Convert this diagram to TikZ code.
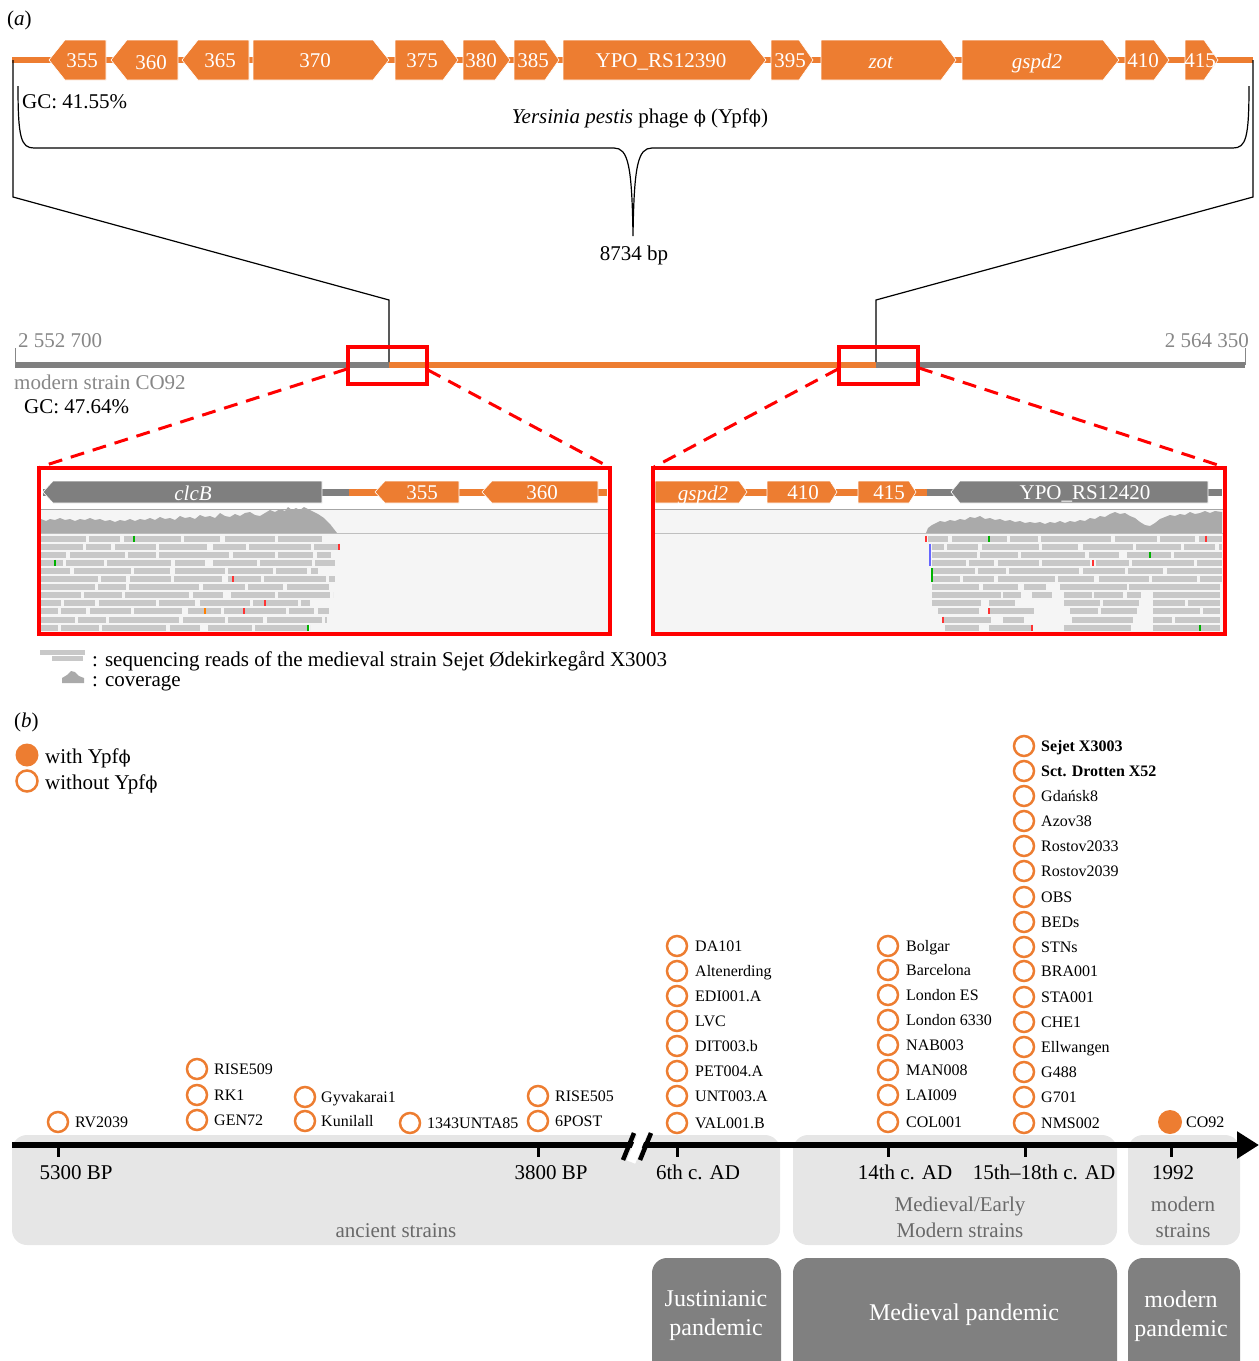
\documentclass[tikz,border=0pt]{standalone}
\usepackage{fontspec}
\setmainfont{Liberation Serif}
\newfontfamily\phifont[Scale=0.85]{DejaVu Serif}
\usetikzlibrary{arrows.meta}
\newcommand\phg{{\phifont ϕ}}
\newcommand\fA{\fontsize{21}{26}\selectfont}
\newcommand\fB{\fontsize{16}{19}\selectfont}
\newcommand\fC{\fontsize{24}{29}\selectfont}
\definecolor{orng}{RGB}{237,125,49}
\definecolor{ggene}{RGB}{127,127,127}
\definecolor{tgray}{RGB}{135,135,135}
\definecolor{lbox}{RGB}{230,230,230}
\definecolor{dbox}{RGB}{128,128,128}
\definecolor{readc}{RGB}{200,200,200}
\definecolor{covc}{RGB}{170,170,170}
\definecolor{panbg}{RGB}{245,245,245}
\definecolor{boxtxt}{RGB}{105,105,105}
% gene arrows: x1, x2, ymid, half height, head, style
\newcommand\geneR[6]{\path[#6] (#1,#3-#4) -- (#2-#5,#3-#4) -- (#2,#3) -- (#2-#5,#3+#4) -- (#1,#3+#4) -- cycle;}
\newcommand\geneL[6]{\path[#6] (#2,#3-#4) -- (#1+#5,#3-#4) -- (#1,#3) -- (#1+#5,#3+#4) -- (#2,#3+#4) -- cycle;}
\begin{document}
\begin{tikzpicture}[x=1pt,y=-1pt,
  t21/.style={font=\fA, inner sep=0pt, text height=14.3pt, text depth=0pt},
  t16/.style={font=\fB, inner sep=0pt, text height=10.9pt, text depth=0pt},
  glab/.style={t21, text=white},
  og/.style={fill=orng, draw=white, line width=0.6},
  gg/.style={fill=ggene, draw=white, line width=0.6},
  sc/.style={circle, draw=orng, line width=2.5, minimum size=20, inner sep=0pt},
  sl/.style={t16, anchor=west},
  redbox/.style={draw=red, line width=4},
  reddash/.style={draw=red, line width=3, dash pattern=on 14pt off 9pt},
  read/.style={draw=readc, line width=6},
  rp1/.style={dash pattern=on 45pt off 3pt on 31pt off 4pt on 57pt off 3pt on 36pt off 5pt on 50pt off 3pt},
  rp2/.style={dash pattern=on 62pt off 3pt on 25pt off 4pt on 41pt off 3pt on 48pt off 6pt on 33pt off 3pt},
  rp3/.style={dash pattern=on 35pt off 4pt on 55pt off 3pt on 28pt off 3pt on 70pt off 4pt on 42pt off 3pt},
  rp4/.style={dash pattern=on 52pt off 3pt on 38pt off 3pt on 64pt off 4pt on 30pt off 8pt on 44pt off 3pt},
  mm/.style={line width=2},
  ltxt/.style={font=\fA, align=center, inner sep=0pt, text=boxtxt},
  dtxt/.style={font=\fC, align=center, inner sep=0pt, text=white},
]
\useasboundingbox (0,0) rectangle (1259,1361);

%%%%%%%%%%%%%%%% (a) phage gene map
\node[t21, anchor=west] (pa) at (7,18) {(\textit{a})};
\draw[orng, line width=6] (12,60) -- (1253,60);
\geneL{49}{106}{60}{20}{16}{og}
\geneL{111}{178}{60}{20}{16}{og}
\geneL{182}{249}{60}{20}{16}{og}
\geneR{253}{389}{60}{20}{16}{og}
\geneR{395}{458}{60}{20}{15}{og}
\geneR{463}{510}{60}{20}{15}{og}
\geneR{514}{559}{60}{20}{14}{og}
\geneR{563}{766}{60}{20}{16}{og}
\geneR{771}{813}{60}{20}{14}{og}
\geneR{821}{956}{60}{20}{15}{og}
\geneR{962}{1119}{60}{20}{16}{og}
\geneR{1125}{1169}{60}{20}{15}{og}
\geneR{1185}{1218}{60}{20}{14}{og}
\node[glab] (g355) at (82,60) {355};
\node[glab] (g360) at (151,62) {360};
\node[glab] (g365) at (220,60) {365};
\node[glab] (g370) at (315,60) {370};
\node[glab] (g375) at (422,60) {375};
\node[glab] (g380) at (481,60) {380};
\node[glab] (g385) at (533,60) {385};
\node[glab] (g390) at (661,60) {YPO\_RS12390};
\node[glab] (g395) at (790,60) {395};
\node[glab] (gzot) at (881,61) {\textit{zot}};
\node[glab] (ggsp) at (1037,61) {\textit{gspd2}};
\node[glab] (g410) at (1143,60) {410};
\node[glab] (g415) at (1200,60) {415};

\node[t21, anchor=west] (gc1) at (22,101) {GC: 41.55\%};
\node[t21] (ypf) at (640,116) {\textit{Yersinia pestis} phage \phg\ (Ypf\phg)};
\draw[line width=1.2] (18,86) .. controls (18,138) and (21,148) .. (34,148) -- (614,148)
   .. controls (628,148) and (632,165) .. (633,236)
   .. controls (634,165) and (638,148) .. (652,148) -- (1233,148)
   .. controls (1246,148) and (1249,138) .. (1249,86);
\node[t21] (bp) at (634,253) {8734 bp};

%%%%%%%%%%%%%%%% chromosome
\draw[ggene, line width=6] (15,365) -- (389,365);
\draw[orng, line width=6] (389,365) -- (876,365);
\draw[ggene, line width=6] (876,365) -- (1245,365);
\draw[tgray, line width=1] (15,348) -- (15,365);
\draw[tgray, line width=1] (1245,348) -- (1245,365);
\draw[line width=1.2] (13,60) -- (13,197) -- (389,300) -- (389,362);
\draw[line width=1.2] (1253,60) -- (1253,197) -- (876,300) -- (876,362);
\node[t21, anchor=west, text=tgray] (pos1) at (18,340) {2 552 700};
\node[t21, anchor=east, text=tgray] (pos2) at (1249,340) {2 564 350};
\node[t21, anchor=west, text=tgray] (ms) at (14,382) {modern strain CO92};
\node[t21, anchor=west] (gc2) at (24,406) {GC: 47.64\%};

\draw[redbox] (348,347) rectangle (427,384);
\draw[redbox] (839,347) rectangle (918,384);
\draw[reddash] (347,369) -- (40,467);
\draw[reddash] (428,370) -- (609,467);
\draw[reddash] (838,369) -- (654,467);
\draw[reddash] (919,368) -- (1224,467);

%%%%%%%%%%%%%%%% left zoom panel
\fill[panbg] (41,510) rectangle (608,632);
\draw[gray!70, line width=1.5] (41,509.5) -- (608,509.5);
\draw[gray!50, line width=1] (41,533) -- (608,533);
\fill[covc] (41,533) -- (41,519) -- (46,521) -- (50,519) -- (55,520) -- (60,518) -- (65,520) -- (70,519) -- (75,521) -- (80,519) -- (85,520) -- (90,518) -- (95,520) -- (100,519) -- (105,521) -- (110,520) -- (115,522) -- (120,520) -- (125,521) -- (130,519) -- (135,521) -- (140,519) -- (145,520) -- (150,518) -- (155,520) -- (160,517) -- (165,519) -- (170,518) -- (175,520) -- (180,516) -- (185,518) -- (190,517) -- (195,519) -- (200,515) -- (205,517) -- (210,516) -- (215,518) -- (220,513) -- (225,516) -- (230,517) -- (235,514) -- (240,516) -- (245,513) -- (250,512) -- (255,515) -- (260,516) -- (265,513) -- (270,510) -- (275,512) -- (280,509) -- (285,511) -- (288,507) -- (292,510) -- (296,508) -- (300,510) -- (304,507) -- (308,509) -- (312,511) -- (318,514) -- (324,518) -- (330,524) -- (337,533) -- cycle;
\draw[read,rp1] (41,538.5) -- (322,538.5);
\draw[read,rp2,dash phase=20pt] (41,546.6) -- (339,546.6);
\draw[read,rp3,dash phase=10pt] (41,554.7) -- (331,554.7);
\draw[read,rp4,dash phase=30pt] (41,562.8) -- (335,562.8);
\draw[read,rp1,dash phase=50pt] (41,570.9) -- (318,570.9);
\draw[read,rp2,dash phase=5pt] (41,579) -- (335,579);
\draw[read,rp3,dash phase=40pt] (41,587.1) -- (329,587.1);
\draw[read,rp4,dash phase=12pt] (41,595.2) -- (333,595.2);
\draw[read,rp1,dash phase=25pt] (41,603.3) -- (310,603.3);
\draw[read,rp2,dash phase=45pt] (41,611.4) -- (329,611.4);
\draw[read,rp3,dash phase=60pt] (41,619.5) -- (327,619.5);
\draw[read,rp4,dash phase=35pt] (41,627.6) -- (310,627.6);
\draw[mm, green!70!black] (134,535.5) -- (134,541.5);
\draw[mm, red!80] (339,543.6) -- (339,549.6);
\draw[mm, green!70!black] (55,559.8) -- (55,565.8);
\draw[mm, red!80] (233,576) -- (233,582);
\draw[mm, red!80] (265,600.3) -- (265,606.3);
\draw[mm, orange] (205,608.4) -- (205,614.4);
\draw[mm, red!80] (244,608.4) -- (244,614.4);
\draw[mm, green!70!black] (308,624.6) -- (308,630.6);
\draw[ggene, line width=7] (43,492) -- (349,492);
\draw[orng, line width=7] (349,492) -- (607,492);
\geneL{43}{322}{492}{11}{10}{gg}
\geneL{375}{459}{492}{11}{10}{og}
\geneL{482}{598}{492}{11}{10}{og}
\node[glab] (clcb) at (193,493) {\textit{clcB}};
\node[glab] (p355) at (422,492) {355};
\node[glab] (p360) at (542,492) {360};
\draw[redbox] (39,468) rectangle (610,634);

%%%%%%%%%%%%%%%% right zoom panel
\fill[panbg] (655,510) rectangle (1223,632);
\draw[gray!70, line width=1.5] (655,509.5) -- (1223,509.5);
\draw[gray!50, line width=1] (655,533) -- (1223,533);
\fill[covc] (926,533) -- (928,528) -- (932,525) -- (936,523) -- (940,521) -- (945,522) -- (950,520) -- (955,521) -- (960,519) -- (965,520) -- (970,517) -- (975,518) -- (980,516) -- (985,519) -- (990,518) -- (995,520) -- (1000,519) -- (1005,521) -- (1010,520) -- (1015,522) -- (1020,521) -- (1025,523) -- (1030,522) -- (1035,523) -- (1040,522) -- (1045,524) -- (1050,522) -- (1055,523) -- (1060,521) -- (1065,523) -- (1070,521) -- (1075,522) -- (1080,520) -- (1085,521) -- (1090,518) -- (1095,519) -- (1100,516) -- (1105,517) -- (1110,514) -- (1115,512) -- (1120,514) -- (1125,513) -- (1130,516) -- (1135,518) -- (1140,522) -- (1145,525) -- (1150,526) -- (1155,523) -- (1160,519) -- (1165,517) -- (1170,515) -- (1175,516) -- (1180,514) -- (1185,515) -- (1190,512) -- (1195,514) -- (1200,513) -- (1205,511) -- (1210,513) -- (1215,511) -- (1222,512) -- (1222,533) -- cycle;
\draw[read,rp3,dash phase=15pt] (928,538.5) -- (1222,538.5);
\draw[read,rp1,dash phase=33pt] (932,546.6) -- (1222,546.6);
\draw[read,rp4,dash phase=7pt] (932,554.7) -- (1222,554.7);
\draw[read,rp2,dash phase=28pt] (932,562.8) -- (1222,562.8);
\draw[read,rp3,dash phase=52pt] (933,570.9) -- (1222,570.9);
\draw[read,rp1,dash phase=18pt] (933,579) -- (1222,579);
\foreach \a/\b in {932/979, 983/1018, 1024/1046, 1060/1127, 1129/1220}
  \draw[read] (\a,587.1) -- (\b,587.1);
\foreach \a/\b in {932/1001, 1003/1021, 1032/1052, 1064/1092, 1094/1123, 1127/1141, 1153/1220}
  \draw[read] (\a,595.2) -- (\b,595.2);
\foreach \a/\b in {932/981, 989/1015, 1064/1100, 1103/1139, 1153/1185, 1188/1220}
  \draw[read] (\a,603.3) -- (\b,603.3);
\foreach \a/\b in {938/979, 989/1034, 1070/1098, 1101/1137, 1153/1200, 1203/1220}
  \draw[read] (\a,611.4) -- (\b,611.4);
\foreach \a/\b in {942/991, 1003/1024, 1072/1133, 1153/1172, 1175/1220}
  \draw[read] (\a,619.5) -- (\b,619.5);
\foreach \a/\b in {945/979, 989/1032, 1064/1131, 1153/1220}
  \draw[read] (\a,627.6) -- (\b,627.6);
\draw[mm, red!80] (926,535.5) -- (926,541.5);
\draw[mm, green!70!black] (989,535.5) -- (989,541.5);
\draw[mm, red!80] (1206,535.5) -- (1206,541.5);
\draw[mm, blue!60] (930,543.6) -- (930,565.8);
\draw[mm, green!70!black] (932,568) -- (932,582);
\draw[mm, green!70!black] (1150,551.7) -- (1150,557.7);
\draw[mm, red!80] (1093,559.8) -- (1093,565.8);
\draw[mm, red!80] (989,608.4) -- (989,614.4);
\draw[mm, red!80] (943,616.5) -- (943,622.5);
\draw[mm, red!80] (1032,624.6) -- (1032,630.6);
\draw[mm, green!70!black] (1200,624.6) -- (1200,630.6);
\draw[orng, line width=7] (655,492) -- (927,492);
\draw[ggene, line width=7] (927,492) -- (1222,492);
\geneR{655}{747}{492}{11}{8}{og}
\geneR{767}{837}{492}{11}{7}{og}
\geneR{858}{916}{492}{11}{7}{og}
\geneL{951}{1208}{492}{11}{9}{gg}
\node[glab] (pgsp) at (703,493) {\textit{gspd2}};
\node[glab] (p410) at (803,492) {410};
\node[glab] (p415) at (889,492) {415};
\node[glab] (p420) at (1085,492) {YPO\_RS12420};
\draw[redbox] (653,468) rectangle (1225,634);

%%%%%%%%%%%%%%%% legend (a)
\draw[readc, line width=5] (40,652.5) -- (85,652.5);
\draw[readc, line width=5] (52,658) -- (83,658);
\fill[covc] (62,683) -- (62,678) -- (67,675) -- (71,671) -- (75,672) -- (79,676) -- (84,678) -- (84,683) -- cycle;
\node[t21, anchor=west] (lg1) at (92,659) {: sequencing reads of the medieval strain Sejet Ødekirkegård X3003};
\node[t21, anchor=west] (lg2) at (92,679) {: coverage};

%%%%%%%%%%%%%%%% (b)
\node[t21, anchor=west] (pb) at (14,720) {(\textit{b})};
\node[circle, fill=orng, minimum size=23, inner sep=0pt] (lw) at (27,755) {};
\node[t21, anchor=west] (lwt) at (45,756) {with Ypf\phg};
\node[sc, minimum size=21] (lwo) at (27,781) {};
\node[t21, anchor=west] (lwot) at (45,782) {without Ypf\phg};

% background boxes
\fill[lbox, rounded corners=15] (12,1135) rectangle (780,1245);
\fill[lbox, rounded corners=15] (793,1135) rectangle (1117,1245);
\fill[lbox, rounded corners=15] (1128,1135) rectangle (1240,1245);
\begin{scope}
\clip (0,0) rectangle (1259,1361);
\fill[dbox, rounded corners=15] (652,1258) rectangle (781,1376);
\fill[dbox, rounded corners=15] (793,1258) rectangle (1117,1376);
\fill[dbox, rounded corners=15] (1128,1258) rectangle (1240,1376);
\end{scope}
\node[ltxt] (anc) at (396,1231) {ancient strains};
\node[ltxt] (med) at (960,1217) {Medieval/Early\\Modern strains};
\node[ltxt] (mod) at (1183,1217) {modern\\strains};
\node[dtxt] (jus) at (716,1316) {Justinianic\\pandemic};
\node[dtxt] (mpd) at (964,1315) {Medieval pandemic};
\node[dtxt] (mop) at (1181,1316) {modern\\pandemic};

% timeline
\draw[line width=6, -{Triangle[length=22pt,width=26pt]}] (12,1145) -- (1259,1145);
\draw[white, line width=9] (631,1162) -- (644,1130);
\draw[line width=4.5] (623,1160) -- (634,1133);
\draw[line width=4.5] (640,1160) -- (651,1133);
\foreach \x in {58,538,677,888,1025,1171}
  \draw[line width=3] (\x,1145) -- (\x,1157);
\node[t21] (t1) at (76,1172) {5300 BP};
\node[t21] (t2) at (551,1172) {3800 BP};
\node[t21] (t3) at (698,1172) {6th c. AD};
\node[t21] (t4) at (905,1172) {14th c. AD};
\node[t21] (t5) at (1044,1172) {15th–18th c. AD};
\node[t21] (t6) at (1173,1172) {1992};

% strains
\node[sc] (sa1) at (58,1122) {};
\node[sl] (la1) at (75,1122) {RV2039};
\foreach \y/\t [count=\i] in {1069/RISE509, 1095/RK1, 1120/GEN72}
  {\node[sc] (sb\i) at (197,\y) {}; \node[sl] (lb\i) at (214,\y) {\t};}
\foreach \y/\t [count=\i] in {1097/Gyvakarai1, 1121/Kunilall}
  {\node[sc] (sc\i) at (305,\y) {}; \node[sl] (lc\i) at (321,\y) {\t};}
\node[sc] (sd1) at (410,1123) {};
\node[sl] (ld1) at (427,1123) {1343UNTA85};
\foreach \y/\t [count=\i] in {1096/RISE505, 1121/6POST}
  {\node[sc] (se\i) at (538,\y) {}; \node[sl] (le\i) at (555,\y) {\t};}
\foreach \y/\t [count=\i] in {946/DA101, 971/Altenerding, 996/EDI001.A, 1021/LVC, 1046/DIT003.b, 1071/PET004.A, 1096/UNT003.A, 1123/VAL001.B}
  {\node[sc] (sf\i) at (677,\y) {}; \node[sl] (lf\i) at (695,\y) {\t};}
\foreach \y/\t [count=\i] in {946/Bolgar, 970/Barcelona, 995/London ES, 1020/London 6330, 1045/NAB003, 1070/MAN008, 1095/LAI009, 1122/COL001}
  {\node[sc] (sg\i) at (888,\y) {}; \node[sl] (lg\i) at (906,\y) {\t};}
\foreach \y/\t [count=\i] in {746/\textbf{Sejet X3003}, 771/\textbf{Sct. Drotten X52}, 796/Gdańsk8, 821/Azov38, 846/Rostov2033, 871/Rostov2039, 897/OBS, 922/BEDs, 947/STNs, 971/BRA001, 997/STA001, 1022/CHE1, 1047/Ellwangen, 1072/G488, 1097/G701, 1123/NMS002}
  {\node[sc] (sh\i) at (1024,\y) {}; \node[sl] (lh\i) at (1041,\y) {\t};}
\node[circle, fill=orng, minimum size=24, inner sep=0pt] (co) at (1170,1122) {};
\node[sl] (lco) at (1186,1122) {CO92};
\end{tikzpicture}
\end{document}
